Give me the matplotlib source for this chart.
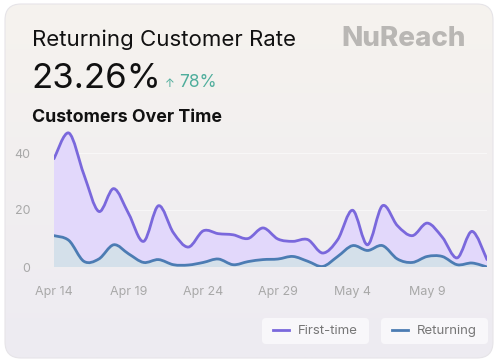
import numpy as np
import matplotlib
matplotlib.use("Agg")
import matplotlib.pyplot as plt
from matplotlib.path import Path
from matplotlib.patches import PathPatch, FancyBboxPatch
from matplotlib.lines import Line2D

# datos diarios, Apr 14 -> May 13
dias = list(range(30))
first_time = [38, 47, 32.5, 19.5, 27.5, 18.7, 9, 21.5, 12, 7,
              12.7, 11.7, 11.3, 10, 13.7, 9.8, 9, 9.6, 4.9, 9.6,
              19.9, 7.8, 21.5, 14.5, 11, 15.4, 10.5, 3.2, 12.5, 2.6]
returning = [11, 9.3, 2, 2.8, 7.8, 4.6, 1.6, 2.6, 0.8, 0.7,
             1.6, 2.8, 0.8, 1.9, 2.6, 2.8, 3.7, 2, 0.2, 3.7,
             7.5, 5.8, 7.5, 2.8, 1.6, 3.7, 3.7, 0.8, 1.4, 0]
tick_pos = [0, 5, 10, 15, 20, 25]
tick_lbl = ["Apr 14", "Apr 19", "Apr 24", "Apr 29", "May 4", "May 9"]

W, H = 499, 363
fig = plt.figure(figsize=(W / 100, H / 100), dpi=100)
fig.patch.set_facecolor("white")


def px(x, y):
    return x / W, 1 - y / H


# tarjeta de fondo con gradiente
bg = fig.add_axes([0, 0, 1, 1])
bg.set_xlim(0, W)
bg.set_ylim(H, 0)
bg.axis("off")
card = FancyBboxPatch((5, 4), 488, 354, boxstyle="round,pad=0,rounding_size=16",
                      facecolor="none", edgecolor="#e6e4e8", lw=0.8)
bg.add_patch(card)
top = np.array([246, 243, 238]) / 255
bot = np.array([237, 235, 242]) / 255
t = np.linspace(0, 1, 256)[:, None]
grad = (top[None, :] * (1 - t) + bot[None, :] * t)[:, None, :]
img = bg.imshow(grad, extent=(5, 493, 358, 4), aspect="auto", zorder=0)
img.set_clip_path(card)

# cajas de la leyenda
for bx in [262, 381]:
    bg.add_patch(FancyBboxPatch((bx, 318), 107, 26, boxstyle="round,pad=0,rounding_size=4",
                                facecolor="#f8f7fa", edgecolor="none", zorder=2))

fam = ["Inter", "DejaVu Sans"]
fig.text(*px(32, 46), "Returning Customer Rate", fontsize=16, family=fam,
         color="#111111", va="baseline")
fig.text(*px(31, 88), "23.26%", fontsize=25, family=fam, color="#111111", va="baseline")
fig.text(*px(165, 87), "\u2191", fontsize=8.5, family=fam, color="#4fae9c", va="baseline")
fig.text(*px(179, 87), "78%", fontsize=12.5, family=fam, color="#4fae9c", va="baseline")
fig.text(*px(32, 122), "Customers Over Time", fontsize=12.8, family=fam,
         fontweight="bold", color="#111111", va="baseline")
fig.text(*px(466, 46), "NuReach", fontsize=20, family=fam, fontweight="heavy",
         color="#b9b7b4", ha="right", va="baseline")


def suave(xs, ys):
    # curva bezier tipo catmull-rom por los puntos
    p = np.column_stack([xs, ys]).astype(float)
    n = len(p)
    verts = [p[0]]
    codes = [Path.MOVETO]
    for i in range(n - 1):
        p0 = p[max(i - 1, 0)]
        p1 = p[i]
        p2 = p[i + 1]
        p3 = p[min(i + 2, n - 1)]
        c1 = p1 + (p2 - p0) / 6
        c2 = p2 - (p3 - p1) / 6
        verts += [c1, c2, p2]
        codes += [Path.CURVE4] * 3
    return verts, codes


x0, y0 = px(54, 267)
x1, y1 = px(487, 124.5)
ax = fig.add_axes([x0, y0, x1 - x0, y1 - y0])
ax.patch.set_alpha(0)

for vals, fill, line, z in [(first_time, "#e2d8fb", "#7a68dc", 2),
                            (returning, "#d4e0ea", "#4c7cb3", 3)]:
    v, c = suave(dias, vals)
    area = v + [(dias[-1], 0), (dias[0], 0), v[0]]
    acodes = c + [Path.LINETO, Path.LINETO, Path.CLOSEPOLY]
    ax.add_patch(PathPatch(Path(area, acodes), facecolor=fill, edgecolor="none", zorder=z))
    ax.add_patch(PathPatch(Path(v, c), facecolor="none", edgecolor=line, lw=2,
                           zorder=z + 0.5, capstyle="round"))

ax.set_xlim(dias[0], dias[-1])
ax.set_ylim(0, 50)
ax.set_yticks([0, 20, 40])
ax.set_xticks(tick_pos)
ax.set_xticklabels(tick_lbl)
for s in ax.spines.values():
    s.set_visible(False)
ax.tick_params(length=0, labelsize=9, labelcolor="#a8a8a8")
ax.tick_params(axis="y", pad=17)
ax.tick_params(axis="x", pad=14)
for lab in ax.get_xticklabels() + ax.get_yticklabels():
    lab.set_family(fam)
ax.grid(axis="y", color="white", alpha=0.5, lw=0.8)
ax.set_axisbelow(True)

# leyendas
for nombre, col, cx in [("First-time", "#7a68dc", 315.5), ("Returning", "#4c7cb3", 434.5)]:
    h = Line2D([], [], color=col, lw=2)
    fig.legend([h], [nombre], loc="center", bbox_to_anchor=px(cx, 331),
               frameon=False, handlelength=1.2, handletextpad=0.7,
               borderaxespad=0, labelcolor="#777777",
               prop={"family": fam, "size": 9.5})

fig.savefig("out.png", dpi=100, facecolor="white")
